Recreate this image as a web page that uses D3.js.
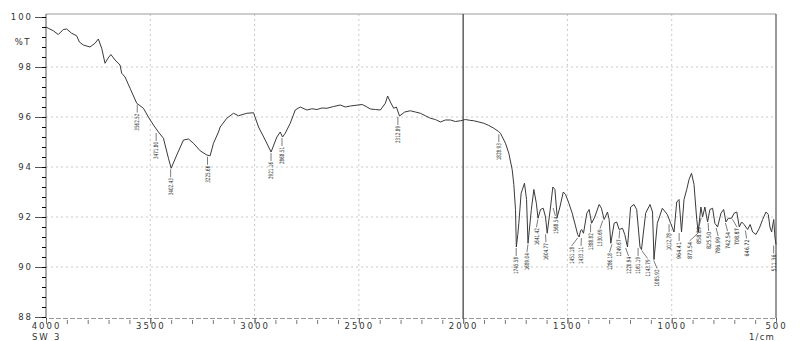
<!DOCTYPE html>
<html>
<head>
<meta charset="utf-8">
<script src="https://cdn.jsdelivr.net/npm/d3@7"></script>
<style>
  body { margin: 0; background: #fff; }
  svg { display: block; }
</style>
</head>
<body>
<svg id="ftir"></svg>
<script>
(function() {

// spectrum: wavenumber (1/cm) and transmittance (%T)
const wavenumbers = [4000,3989,3965,3941,3917,3901,3877,3853,3840,3821,3789,3765,3749,3733,3717,3703,3689,3669,3645,3637,3621,3597,3565,3533,3509,3485,3461,3437,3413,3400,3373,3341,3317,3293,3261,3229,3213,3197,3173,3165,3133,3101,3077,3037,3005,2981,2949,2921,2893,2877,2866,2853,2829,2805,2781,2749,2725,2701,2677,2653,2621,2589,2565,2541,2513,2484,2465,2445,2420,2397,2373,2362,2349,2333,2320,2305,2280,2253,2229,2205,2181,2157,2133,2109,2085,2061,2037,2013,1989,1970,1949,1925,1901,1877,1853,1830,1821,1797,1781,1765,1757,1749,1745,1738,1733,1722,1706,1696,1689,1673,1661,1649,1641,1629,1616,1605,1597,1581,1570,1560,1549,1536,1520,1509,1493,1477,1460,1451,1444,1437,1432,1423,1407,1396,1384,1369,1348,1337,1324,1308,1300,1292,1276,1264,1252,1236,1225,1212,1197,1181,1168,1152,1145,1125,1104,1092,1085,1069,1045,1021,1005,989,976,965,953,941,928,917,905,893,880,873,860,852,841,828,817,804,793,780,764,751,740,729,713,701,688,676,665,653,636,624,612,596,580,564,548,537,529,521,511,505,500];
const transmittance = [99.6,99.55,99.45,99.3,99.5,99.52,99.35,99.25,99.0,98.88,98.8,98.95,99.12,98.75,98.15,98.35,98.5,98.28,98.08,97.75,97.6,97.15,96.55,96.35,96.0,95.68,95.4,95.15,94.35,93.95,94.48,95.08,95.12,94.95,94.65,94.48,94.45,94.95,95.4,95.6,95.95,96.15,96.05,96.15,96.17,95.6,95.08,94.6,95.2,95.4,95.2,95.35,95.75,96.28,96.4,96.28,96.33,96.3,96.36,96.35,96.42,96.48,96.4,96.44,96.47,96.5,96.42,96.32,96.3,96.28,96.55,96.84,96.6,96.35,96.4,96.04,96.2,96.25,96.2,96.15,96.05,95.95,95.9,95.8,95.88,95.88,95.82,95.85,95.9,95.87,95.85,95.8,95.75,95.66,95.55,95.42,95.35,94.95,94.55,93.9,93.3,92.3,90.8,91.3,91.75,92.95,93.35,92.7,90.95,92.3,93.1,92.55,91.95,92.3,92.35,92.0,91.35,92.4,93.2,93.1,92.0,92.4,93.0,92.9,92.55,92.15,91.6,91.3,91.2,91.45,91.5,91.35,92.15,92.3,91.75,92.0,92.5,92.35,91.9,92.2,91.9,90.95,91.75,91.8,91.5,91.55,91.3,90.8,92.4,92.5,92.3,90.8,90.7,92.15,92.5,92.2,90.3,91.75,92.35,92.1,91.75,91.4,92.6,92.7,91.4,92.7,93.1,93.5,93.75,93.3,91.9,91.4,92.4,92.0,92.4,91.8,92.3,92.35,91.75,91.6,92.15,92.3,91.8,91.95,91.95,92.15,92.2,91.6,91.8,91.7,91.5,91.7,91.4,91.3,91.55,91.9,92.2,92.1,91.6,91.4,91.9,91.2,90.9];

// peak annotations as printed on the chart
const peakLabels = ["3562.52","3471.80","3402.43","3225.66","2921.16","2868.51","2312.89","1828.93","1745.58","1689.04","1641.42","1604.77","1568.54","1451.18","1433.11","1388.82","1330.69","1286.18","1249.67","1220.94","1161.19","1143.79","1085.92","1012.78","964.41","873.54","858.89","825.50","786.99","742.54","708.87","646.72","511.36"];

const xTicks = [4000, 3500, 3000, 2500, 2000, 1500, 1000, 500];
const yTicks = [88, 90, 92, 94, 96, 98, 100];

const W = 811, H = 341;
const plot = { left: 46, right: 776, top: 14, bottom: 318 };
const lineColor = "#3a3a3a";
const gridColor = "#bdbdbd";
const axisFont = "'DejaVu Sans', sans-serif";

const svg = d3.select("#ftir").attr("width", W).attr("height", H);

const x = d3.scaleLinear().domain([4000, 500]).range([plot.left, plot.right]);
const y = d3.scaleLinear().domain([88, 100]).range([317, 17]);

const data = wavenumbers.map((w, i) => ({ w: w, t: transmittance[i] }));

// grid
const gx = xTicks.filter(d => d !== 4000 && d !== 500 && d !== 2000);
svg.append("g").selectAll("line").data(gx).join("line")
    .attr("x1", d => x(d)).attr("x2", d => x(d))
    .attr("y1", plot.top).attr("y2", plot.bottom)
    .attr("stroke", gridColor).attr("stroke-width", 0.8)
    .attr("stroke-dasharray", "2,3");
svg.append("g").selectAll("line").data(yTicks.filter(d => d > 88 && d < 100)).join("line")
    .attr("x1", plot.left).attr("x2", plot.right)
    .attr("y1", d => y(d)).attr("y2", d => y(d))
    .attr("stroke", gridColor).attr("stroke-width", 0.8)
    .attr("stroke-dasharray", "2,3");

// frame: top and right border, split line at 2000
svg.append("line")
    .attr("x1", plot.left).attr("x2", plot.right)
    .attr("y1", plot.top).attr("y2", plot.top)
    .attr("stroke", "#9a9a9a").attr("stroke-width", 1);
svg.append("line")
    .attr("x1", plot.right).attr("x2", plot.right)
    .attr("y1", plot.top).attr("y2", plot.bottom)
    .attr("stroke", "#555").attr("stroke-width", 1.2);
svg.append("line")
    .attr("x1", x(2000)).attr("x2", x(2000))
    .attr("y1", plot.top).attr("y2", plot.bottom)
    .attr("stroke", "#444").attr("stroke-width", 1.3);

// y axis
const yAxis = svg.append("g")
    .attr("transform", `translate(${plot.left},0)`)
    .call(d3.axisLeft(y).tickValues(yTicks).tickSize(11).tickPadding(2));
svg.append("g")
    .attr("transform", `translate(${plot.left},0)`)
    .call(d3.axisLeft(y).tickValues(d3.range(88, 100.01, 0.4)).tickSize(4).tickFormat(""))
    .call(g => g.select(".domain").remove());
yAxis.select(".domain").attr("stroke", "#555").attr("d", `M0,${plot.top}V${plot.bottom}`);
yAxis.selectAll(".tick line").attr("stroke", "#555");
yAxis.selectAll("text")
    .attr("font-family", axisFont).attr("font-size", 8.5).attr("fill", "#333")
    .attr("letter-spacing", "2px");

svg.append("text")
    .attr("x", 31).attr("y", y(99) + 3)
    .attr("text-anchor", "end")
    .attr("font-family", axisFont).attr("font-size", 8.5).attr("fill", "#333")
    .attr("letter-spacing", "1.5px")
    .text("%T");

// x axis
const xAxis = svg.append("g")
    .attr("transform", `translate(0,${plot.bottom})`)
    .call(d3.axisBottom(x).tickValues(xTicks).tickSize(5).tickPadding(0).tickFormat(d3.format("d")));
svg.append("g")
    .attr("transform", `translate(0,${plot.bottom + 2})`)
    .call(d3.axisBottom(x).tickValues(d3.range(500, 4001, 100)).tickSize(4).tickFormat(""))
    .call(g => g.select(".domain").remove())
    .selectAll("line").attr("stroke", "#777");
xAxis.select(".domain").attr("stroke", "#999").attr("stroke-dasharray", "5,2");
xAxis.selectAll(".tick line").attr("stroke", "#555");
xAxis.selectAll("text")
    .attr("font-family", axisFont).attr("font-size", 8.5).attr("fill", "#333")
    .attr("letter-spacing", "2px");

svg.append("text")
    .attr("x", 32).attr("y", 340)
    .attr("font-family", axisFont).attr("font-size", 8.5).attr("fill", "#333")
    .attr("letter-spacing", "1.8px")
    .text("SW 3");
svg.append("text")
    .attr("x", 775).attr("y", 340)
    .attr("text-anchor", "end")
    .attr("font-family", axisFont).attr("font-size", 8.5).attr("fill", "#333")
    .attr("letter-spacing", "1.2px")
    .text("1/cm");

// spectrum
const line = d3.line().x(d => x(d.w)).y(d => y(d.t));
svg.append("path")
    .datum(data)
    .attr("fill", "none")
    .attr("stroke", lineColor)
    .attr("stroke-width", 1)
    .attr("stroke-linejoin", "round")
    .attr("d", line);

// peak labels: anchor on the trace, spread apart horizontally
const byW = data.slice().sort((a, b) => a.w - b.w);
const bis = d3.bisector(d => d.w).left;
function tAt(w) {
    const i = Math.max(1, Math.min(byW.length - 1, bis(byW, w)));
    const a = byW[i - 1], b = byW[i];
    return a.t + (b.t - a.t) * (w - a.w) / (b.w - a.w);
}
// lowest point of the trace near a wavenumber
function tMin(w, win) {
    let m = tAt(w);
    byW.forEach(d => { if (Math.abs(d.w - w) <= win && d.t < m) m = d.t; });
    return m;
}

const peaks = peakLabels.map(s => {
    const w = parseFloat(s);
    const px = x(w);
    const py = y(tMin(w, 14));
    return { label: s, px: px, py: py, lx: px, top: py + 9 };
});
peaks.sort((a, b) => a.px - b.px);
const minGap = 9.5;
for (let k = 0; k < 200; k++) {
    for (let i = 1; i < peaks.length; i++) {
        const d = peaks[i].lx - peaks[i - 1].lx;
        if (d < minGap) {
            const s = (minGap - d) / 2;
            peaks[i - 1].lx -= s;
            peaks[i].lx += s;
        }
    }
}

const ann = svg.append("g");
ann.selectAll("line").data(peaks).join("line")
    .attr("x1", d => d.px).attr("y1", d => d.py + 1)
    .attr("x2", d => d.lx).attr("y2", d => d.top)
    .attr("stroke", "#444").attr("stroke-width", 0.7);
ann.selectAll("text").data(peaks).join("text")
    .attr("transform", d => `translate(${d.lx},${d.top + 1}) rotate(-90)`)
    .attr("text-anchor", "end")
    .attr("dy", "0.35em")
    .attr("font-family", "'Liberation Sans Narrow', 'DejaVu Sans Condensed', sans-serif")
    .attr("font-size", 6)
    .attr("fill", "#222")
    .attr("textLength", 17)
    .attr("lengthAdjust", "spacingAndGlyphs")
    .text(d => d.label);

})();
</script>
</body>
</html>
